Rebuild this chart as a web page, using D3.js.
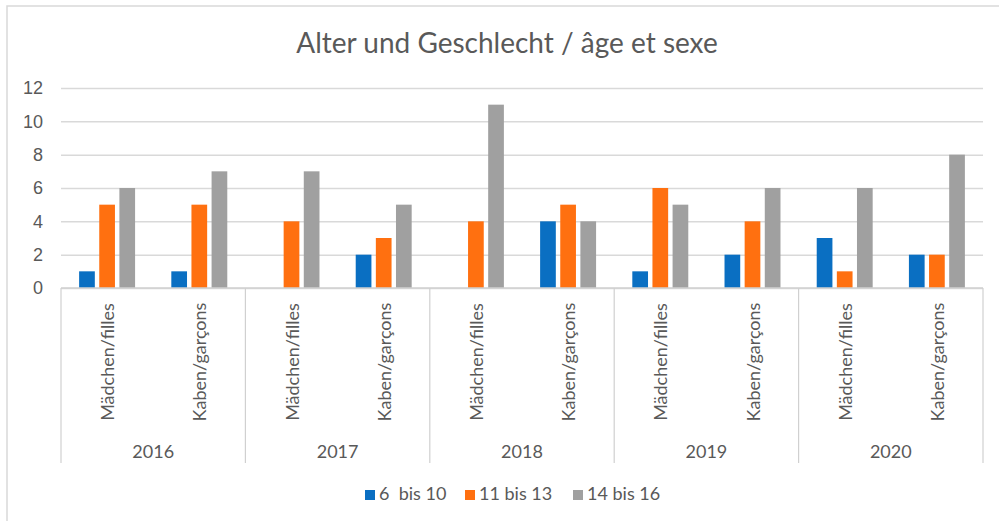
<!DOCTYPE html>
<html>
<head>
    <meta charset="UTF-8">
    <title>Alter und Geschlecht</title>
    <script src="https://d3js.org/d3.v7.min.js"></script>
    <style>
        body { margin: 0; background: #ffffff; }
        svg { display: block; font-family: Lato, "Liberation Sans", sans-serif; }
        .grid line { stroke: #d9d9d9; stroke-width: 1.5; }
        .grid path { display: none; }
        .y-axis path, .y-axis line { display: none; }
        .y-axis text { fill: #595959; font-size: 18px; }
    </style>
</head>
<body>
    <svg id="chart"></svg>

    <script>
        // Daten
        const years = ['2016', '2017', '2018', '2019', '2020'];
        const genders = ['Mädchen/filles', 'Kaben/garçons'];
        const seriesNames = ['6  bis 10', '11 bis 13', '14 bis 16'];
        const seriesColors = ['#0a6fc2', '#ff7010', '#a0a0a0'];
        // Werte pro Jahr und Geschlecht (Mädchen, Knaben)
        const age6to10 = [1, 1, 0, 2, 0, 4, 1, 2, 3, 2];
        const age11to13 = [5, 5, 4, 3, 4, 5, 6, 4, 1, 2];
        const age14to16 = [6, 7, 7, 5, 11, 4, 5, 6, 6, 8];
        const yTicks = [0, 2, 4, 6, 8, 10, 12];

        const W = 999, H = 521;
        const plotLeft = 61, plotRight = 983, plotTop = 88, plotBottom = 288;

        const svg = d3.select('#chart').attr('width', W).attr('height', H);

        // Rahmen
        svg.append('rect')
            .attr('x', 7).attr('y', 6)
            .attr('width', 1000).attr('height', 530)
            .attr('fill', 'none')
            .attr('stroke', '#d9d9d9')
            .attr('stroke-width', 1.5);

        svg.append('text')
            .attr('x', 507).attr('y', 53)
            .attr('text-anchor', 'middle')
            .attr('fill', '#595959')
            .style('font-size', '28px')
            .text('Alter und Geschlecht / âge et sexe');

        const cats = [];
        years.forEach(yr => genders.forEach(g => cats.push(yr + '|' + g)));
        const rows = cats.map((c, i) => ({
            key: c,
            year: c.split('|')[0],
            gender: c.split('|')[1],
            values: [age6to10[i], age11to13[i], age14to16[i]]
        }));

        const y = d3.scaleLinear().domain([0, 12]).range([plotBottom, plotTop]);
        const xYear = d3.scaleBand().domain(years).range([plotLeft, plotRight]).padding(0);
        const x0 = d3.scaleBand().domain(cats).range([plotLeft, plotRight]).padding(0);
        const x1 = d3.scaleBand().domain(seriesNames).range([0, x0.bandwidth()])
            .paddingInner(0.22).paddingOuter(0.9);

        // Gitterlinien
        svg.append('g')
            .attr('class', 'grid')
            .attr('transform', `translate(${plotLeft},0)`)
            .call(d3.axisLeft(y).tickValues(yTicks).tickSize(-(plotRight - plotLeft)).tickFormat(''));

        svg.append('g')
            .attr('class', 'y-axis')
            .attr('transform', `translate(43,0)`)
            .call(d3.axisLeft(y).tickValues(yTicks).tickSize(0).tickPadding(0));

        // Balken
        const groups = svg.selectAll('.cat')
            .data(rows)
            .enter().append('g')
            .attr('class', 'cat')
            .attr('transform', d => `translate(${x0(d.key)},0)`);

        groups.selectAll('rect')
            .data(d => d.values.map((v, i) => ({ name: seriesNames[i], value: v, i: i })))
            .enter().append('rect')
            .attr('x', d => x1(d.name))
            .attr('width', x1.bandwidth())
            .attr('y', d => y(d.value))
            .attr('height', d => plotBottom - y(d.value))
            .attr('fill', d => seriesColors[d.i]);

        // Kategorienachse
        const axisCol = '#d0d0d0';
        svg.append('line')
            .attr('x1', plotLeft).attr('x2', plotRight)
            .attr('y1', plotBottom).attr('y2', plotBottom)
            .attr('stroke', axisCol).attr('stroke-width', 1.5);

        const seps = years.map(yr => xYear(yr)).concat([plotRight]);
        svg.selectAll('.sep')
            .data(seps)
            .enter().append('line')
            .attr('x1', d => d).attr('x2', d => d)
            .attr('y1', plotBottom).attr('y2', 463)
            .attr('stroke', axisCol).attr('stroke-width', 1.2);

        svg.selectAll('.gender-label')
            .data(rows)
            .enter().append('text')
            .attr('transform', d => `translate(${x0(d.key) + x0.bandwidth() / 2 + 7},362) rotate(-90)`)
            .attr('text-anchor', 'middle')
            .attr('fill', '#595959')
            .style('font-size', '18px')
            .text(d => d.gender);

        svg.selectAll('.year-label')
            .data(years)
            .enter().append('text')
            .attr('x', d => xYear(d) + xYear.bandwidth() / 2)
            .attr('y', 458)
            .attr('text-anchor', 'middle')
            .attr('fill', '#595959')
            .style('font-size', '18px')
            .text(d => d);

        // Legende
        const legendX = [365, 465, 573];
        const legend = svg.selectAll('.legend')
            .data(seriesNames)
            .enter().append('g')
            .attr('transform', (d, i) => `translate(${legendX[i]},490)`);
        legend.append('rect')
            .attr('width', 10).attr('height', 10)
            .attr('fill', (d, i) => seriesColors[i]);
        legend.append('text')
            .attr('x', 14).attr('y', 10)
            .attr('fill', '#595959')
            .style('font-size', '18px')
            .style('white-space', 'pre')
            .text(d => d);
    </script>
</body>
</html>
